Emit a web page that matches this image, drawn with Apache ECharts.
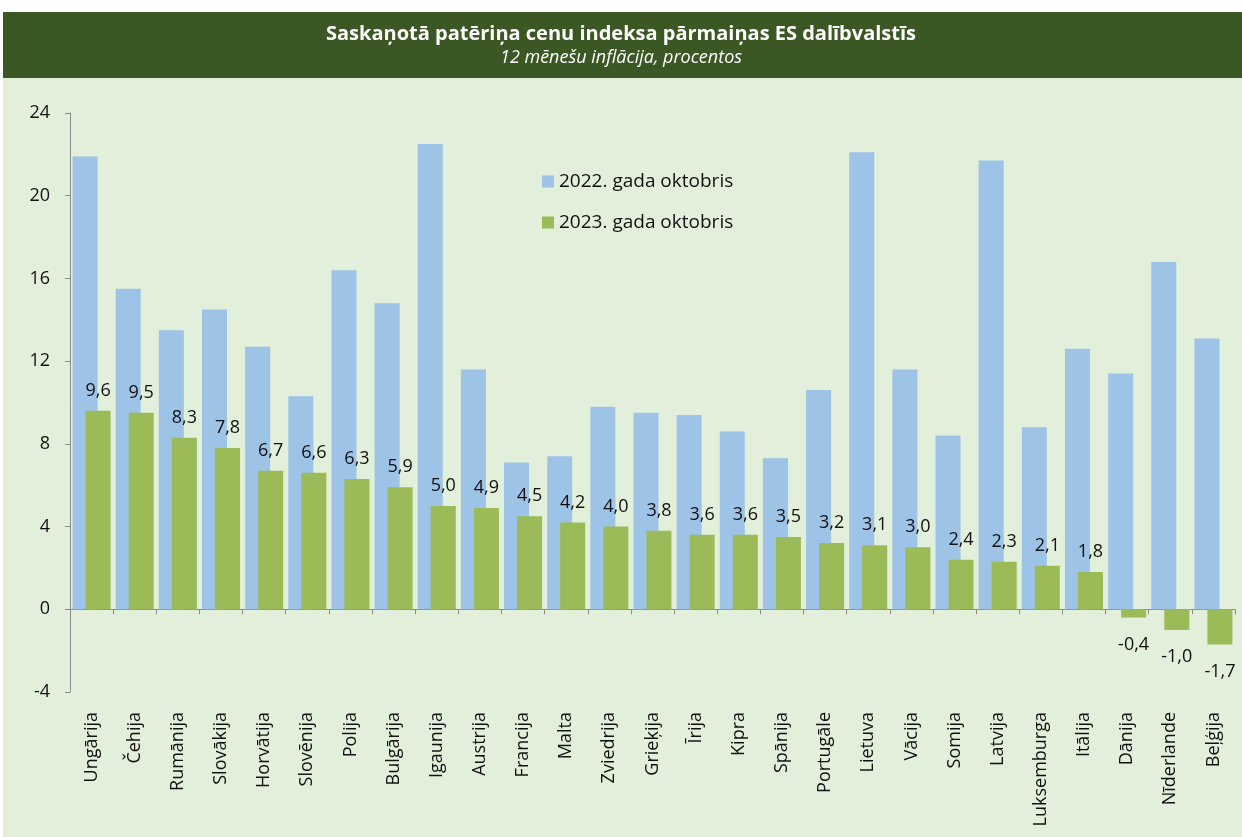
<!DOCTYPE html>
<html>
<head>
<meta charset="utf-8">
<script src="https://cdn.jsdelivr.net/npm/echarts@6/dist/echarts.min.js"></script>
<style>
  html, body { margin: 0; padding: 0; background: #fff; }
  #chart { width: 1242px; height: 837px; }
</style>
</head>
<body>
<div id="chart"></div>
<script>
const countries = [
  "Ungārija", "Čehija", "Rumānija", "Slovākija", "Horvātija", "Slovēnija",
  "Polija", "Bulgārija", "Igaunija", "Austrija", "Francija", "Malta",
  "Zviedrija", "Grieķija", "Īrija", "Kipra", "Spānija", "Portugāle",
  "Lietuva", "Vācija", "Somija", "Latvija", "Luksemburga", "Itālija",
  "Dānija", "Nīderlande", "Beļģija"
];
const oct2022 = [
  21.9, 15.5, 13.5, 14.5, 12.7, 10.3, 16.4, 14.8, 22.5, 11.6, 7.1, 7.4,
  9.8, 9.5, 9.4, 8.6, 7.3, 10.6, 22.1, 11.6, 8.4, 21.7, 8.8, 12.6,
  11.4, 16.8, 13.1
];
const oct2023 = [
  9.6, 9.5, 8.3, 7.8, 6.7, 6.6, 6.3, 5.9, 5.0, 4.9, 4.5, 4.2,
  4.0, 3.8, 3.6, 3.6, 3.5, 3.2, 3.1, 3.0, 2.4, 2.3, 2.1, 1.8,
  -0.4, -1.0, -1.7
];
const seriesNames = ["2022. gada oktobris", "2023. gada oktobris"];
const yTicks = { min: -4, max: 24, interval: 4 };

const font = "'Open Sans', 'Noto Sans', sans-serif";
const chart = echarts.init(document.getElementById("chart"));

const option = {
  backgroundColor: "#fff",
  textStyle: { fontFamily: font },
  graphic: [
    {
      type: "rect",
      shape: { x: 3, y: 78, width: 1239, height: 759 },
      style: { fill: "#e2efda" },
      z: -10
    },
    {
      type: "rect",
      shape: { x: 3, y: 12, width: 1239, height: 66 },
      style: { fill: "#3a5724" },
      z: -10
    }
  ],
  title: {
    text: "Saskaņotā patēriņa cenu indeksa pārmaiņas ES dalībvalstīs",
    subtext: "12 mēnešu inflācija, procentos",
    left: "center",
    top: 19,
    itemGap: 5,
    textStyle: { color: "#fff", fontSize: 20, fontWeight: "bold", fontFamily: font },
    subtextStyle: { color: "#fff", fontSize: 18, fontStyle: "italic", fontFamily: font }
  },
  legend: {
    orient: "vertical",
    left: 537,
    top: 167,
    itemWidth: 12,
    itemHeight: 12,
    itemGap: 22,
    icon: "rect",
    textStyle: { fontSize: 19, color: "#111", fontFamily: font },
    data: seriesNames
  },
  grid: { left: 70, right: 7, top: 113, bottom: 145 },
  xAxis: [
    {
      type: "category",
      data: countries,
      axisLine: { onZero: true, lineStyle: { color: "#8c8c8c" } },
      axisTick: { show: true, interval: 0, length: 5, lineStyle: { color: "#8c8c8c" } },
      axisLabel: { show: false, interval: 0 }
    },
    {
      type: "category",
      data: countries,
      position: "bottom",
      axisLine: { show: false, onZero: false },
      axisTick: { show: false },
      axisLabel: {
        rotate: 90,
        margin: 20,
        interval: 0,
        fontSize: 18,
        color: "#111",
        fontFamily: font
      }
    }
  ],
  yAxis: {
    type: "value",
    min: yTicks.min,
    max: yTicks.max,
    interval: yTicks.interval,
    axisLine: { show: true, lineStyle: { color: "#8c8c8c" } },
    axisTick: { show: true, length: 5, lineStyle: { color: "#8c8c8c" } },
    splitLine: { show: false },
    axisLabel: { margin: 20, fontSize: 18, color: "#111", fontFamily: font }
  },
  series: [
    {
      name: seriesNames[0],
      type: "bar",
      xAxisIndex: 0,
      data: oct2022,
      barWidth: 25,
      barGap: "-48%",
      itemStyle: { color: "#9dc3e6" }
    },
    {
      name: seriesNames[1],
      type: "bar",
      xAxisIndex: 0,
      data: oct2023.map(v => v < 0 ? { value: v, label: { position: "bottom", distance: 18 } } : v),
      barWidth: 25,
      itemStyle: { color: "#9bbb59" },
      label: {
        show: true,
        position: "top",
        distance: 11,
        fontSize: 18,
        color: "#111",
        fontFamily: font,
        formatter: p => p.value.toFixed(1).replace(".", ",")
      }
    }
  ]
};

chart.setOption(option);
</script>
</body>
</html>
